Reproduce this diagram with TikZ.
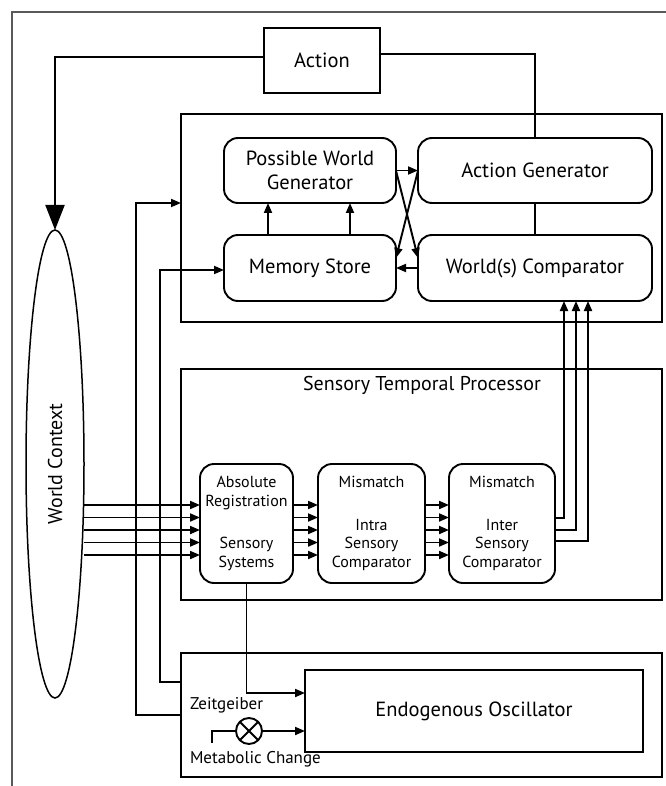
\documentclass[tikz,border=0pt]{standalone}
\usepackage{fontspec}
\setmainfont{PT Sans}
\usetikzlibrary{arrows.meta,shapes.geometric,shapes.misc,calc}
\tikzset{
  every node/.style={inner sep=0pt, outer sep=0pt},
  rbox/.style={draw, line width=1.9pt, rounded corners=14pt, align=center, font=\fontsize{20.5}{24}\selectfont},
  sbox/.style={draw, line width=1.9pt, rounded corners=14pt, align=center, font=\fontsize{16}{18.5}\selectfont},
  pbox/.style={draw, line width=1.9pt},
  ln/.style={line width=1.9pt},
  arr/.style={line width=1.9pt, -{Triangle[length=10pt,width=8pt]}},
  bigarr/.style={line width=1.9pt, -{Triangle[length=25pt,width=19pt]}},
}
\begin{document}
\begin{tikzpicture}[x=1pt,y=-1pt]
\useasboundingbox (0,0) rectangle (665,786);
% outer frame
\draw[gray!70!black, line width=1.2pt] (12,790) -- (12,12) -- (670,12);
% big containers
\node[pbox, minimum width=481pt, minimum height=208pt] (upb) at (421.5,218) {};
\node[pbox, minimum width=481pt, minimum height=231pt] (stp) at (421.5,484.5) {};
\node[pbox, minimum width=481pt, minimum height=124pt] (lowb) at (421.5,715) {};
% top
\node[pbox, minimum width=116pt, minimum height=65pt, font=\fontsize{20.5}{24}\selectfont] (act) at (322,60.5) {Action};
\node[rbox, minimum width=172pt, minimum height=65pt] (pwg) at (310,170.5) {Possible World\\Generator};
\node[rbox, minimum width=234pt, minimum height=65pt] (ag) at (535,170.5) {Action Generator};
\node[rbox, minimum width=172pt, minimum height=66pt] (ms) at (310,268) {Memory Store};
\node[rbox, minimum width=234pt, minimum height=66pt] (wc) at (535,268) {World(s) Comparator};
% world context
\node[draw, ellipse, line width=1.5pt, minimum width=58pt, minimum height=468pt] (wctx) at (55,464) {};
\node[rotate=90, font=\fontsize{20}{24}\selectfont] (wctxt) at (55,464) {World Context};
% sensory
\node[font=\fontsize{20}{24}\selectfont] (stpt) at (422,385) {Sensory Temporal Processor};
\node[sbox, minimum width=93pt, minimum height=119pt] (ar) at (246.5,523.5) {Absolute\\Registration\\[24pt]Sensory\\Systems};
\node[sbox, minimum width=107pt, minimum height=119pt] (intra) at (371.5,523.5) {Mismatch\\[24pt]Intra\\Sensory\\Comparator};
\node[sbox, minimum width=106pt, minimum height=119pt] (inter) at (502,523.5) {Mismatch\\[24pt]Inter\\Sensory\\Comparator};
% oscillator
\node[pbox, minimum width=338pt, minimum height=82pt, font=\fontsize{20.5}{24}\selectfont] (eo) at (474,711) {Endogenous Oscillator};
\node[anchor=west, font=\fontsize{17}{20}\selectfont] (zt) at (190,705) {Zeitgeiber};
\node[anchor=west, font=\fontsize{17}{20}\selectfont] (mc) at (190,759) {Metabolic Change};
\node[draw, circle, line width=1.9pt, minimum size=26pt] (ot) at (249,731) {};
\draw[ln] (ot.45) -- (ot.225);
\draw[ln] (ot.135) -- (ot.315);
\coordinate (mcs) at (212,743);
% connectors top
\draw[bigarr] ([yshift=3.5pt]act.west) -| (wctx.north);
\draw[ln] ([yshift=6.5pt]act.east) -| (ag.north);
\draw[ln] (ag.south) -- (wc.north);
\draw[arr] (pwg.east) -- (ag.west);
\draw[arr] (pwg.east) -- ($(wc.west)+(0,-10)$);
\draw[arr] (ag.west) -- ($(ms.east)+(0,-10)$);
\draw[arr] (wc.west) -- (ms.east);
\draw[arr] ([xshift=-42pt]ms.north) -- ([xshift=-42pt]pwg.south);
\draw[arr] ([xshift=40pt]ms.north) -- ([xshift=40pt]pwg.south);
% left loops
\draw[arr] (lowb.west) -- (136,715) -- (136,203) -- (upb.west |- 0,203);
\draw[arr] ([yshift=33pt]lowb.west) -- (160,682) -- (160,270) -- (ms.west |- 0,270);
% sensory arrows
\foreach \yy in {505,517.5,530,542.5,555} {
  \draw[arr] (wctx.east |- 0,\yy) -- (ar.west |- 0,\yy);
  \draw[arr] (ar.east |- 0,\yy) -- (intra.west |- 0,\yy);
  \draw[arr] (intra.east |- 0,\yy) -- (inter.west |- 0,\yy);
}
\draw[arr] (inter.east |- 0,518) -| ([xshift=29pt]wc.south);
\draw[arr] (inter.east |- 0,530) -| ([xshift=41pt]wc.south);
\draw[arr] (inter.east |- 0,541) -| ([xshift=53pt]wc.south);
% oscillator connectors
\draw[arr] (ar.south) |- ([yshift=18pt]eo.west);
\draw[ln] (mcs) |- (ot.west);
\draw[arr] (ot.east) -- (eo.west |- ot.east);
\end{tikzpicture}
\end{document}
